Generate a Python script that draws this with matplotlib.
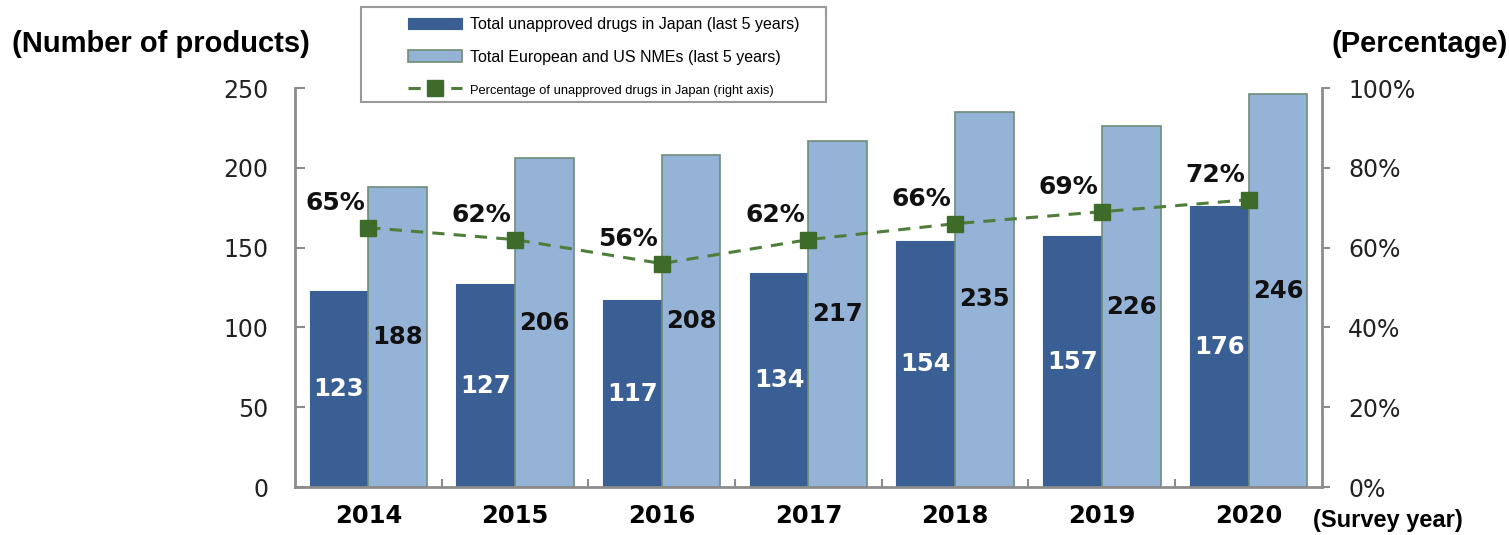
import numpy as np
import matplotlib.pyplot as plt
from matplotlib.patches import Rectangle

years = ['2014', '2015', '2016', '2017', '2018', '2019', '2020']
japan_unapproved = [123, 127, 117, 134, 154, 157, 176]
eu_us_nmes = [188, 206, 208, 217, 235, 226, 246]
pct_unapproved = [65, 62, 56, 62, 66, 69, 72]

dark = '#3a5f94'
light = '#95b3d7'
green = '#3d6b2a'
spine_col = '#8c8c8c'

fig = plt.figure(figsize=(15.09, 5.35), dpi=100)
ax = fig.add_axes([0.1955, 0.0897, 0.6805, 0.7458])
x = np.arange(len(years))
w = 0.4

b1 = ax.bar(x - w/2, japan_unapproved, w, color=dark, edgecolor=dark, linewidth=0.8,
            label='Total unapproved drugs in Japan (last 5 years)')
b2 = ax.bar(x + w/2, eu_us_nmes, w, color=light, edgecolor='#6f8c78', linewidth=1.2,
            label='Total European and US NMEs (last 5 years)')

for xi, v in zip(x, japan_unapproved):
    ax.text(xi - w/2, v/2, str(v), ha='center', va='center', color='white',
            fontsize=17.5, fontweight='bold')
for xi, v in zip(x, eu_us_nmes):
    ax.text(xi + w/2, v/2, str(v), ha='center', va='center', color='#111111',
            fontsize=17.5, fontweight='bold')

ax.set_xlim(-0.5, len(years) - 0.5)
ax.set_ylim(0, 250)
ax.set_yticks([0, 50, 100, 150, 200, 250])
ax.tick_params(axis='y', labelsize=17, colors=spine_col, labelcolor='#222222',
               direction='in', length=7, width=1.5, pad=19)
ax.set_xticks(x)
ax.set_xticklabels(years, fontsize=17.5, fontweight='bold')
ax.tick_params(axis='x', length=0, pad=12)
ax.set_xticks(np.arange(0.5, len(years) - 1, 1), minor=True)
ax.tick_params(axis='x', which='minor', direction='in', length=6, width=1.5, colors=spine_col)
for s in ['top', 'right']:
    ax.spines[s].set_visible(False)
for s in ['left', 'bottom']:
    ax.spines[s].set_color(spine_col)
    ax.spines[s].set_linewidth(2)

ax2 = ax.twinx()
ax2.set_ylim(0, 100)
ax2.set_yticks([0, 20, 40, 60, 80, 100])
ax2.set_yticklabels([f'{t}%' for t in [0, 20, 40, 60, 80, 100]])
ax2.tick_params(axis='y', labelsize=17, colors=spine_col, labelcolor='#222222',
                length=6, width=1.5, pad=13)
for s in ['top', 'left', 'bottom']:
    ax2.spines[s].set_visible(False)
ax2.spines['right'].set_color(spine_col)
ax2.spines['right'].set_linewidth(2)

ln, = ax2.plot(x, pct_unapproved, linestyle=(0, (4, 3)), color='#4f7d3a', linewidth=2.2,
               marker='s', markersize=11, markerfacecolor=green, markeredgecolor=green,
               label='Percentage of unapproved drugs in Japan (right axis)')
for xi, p in zip(x, pct_unapproved):
    ax2.annotate(f'{p}%', (xi, p), xytext=(-24, 18), textcoords='offset points',
                 ha='center', va='center', fontsize=18, fontweight='bold', color='#111111')

fig.text(0.008, 0.918, '(Number of products)', fontsize=21, fontweight='bold',
         family='Liberation Sans', ha='left', va='center')
fig.text(0.999, 0.918, '(Percentage)', fontsize=21, fontweight='bold',
         family='Liberation Sans', ha='right', va='center')
fig.text(0.870, 0.028, '(Survey year)', fontsize=17, fontweight='bold',
         family='Liberation Sans', ha='left', va='center')

# legend box drawn separately (wide left margin as in the original)
fig.patches.append(Rectangle((361/1509, 1 - 102/535), 465/1509, 95/535,
                             transform=fig.transFigure, facecolor='white',
                             edgecolor='#9a9a9a', linewidth=1.5, zorder=5))
leg = fig.legend(handles=[b1, b2, ln], loc='upper left', bbox_to_anchor=(408/1509, 1 - 17/535),
                 prop={'family': 'Liberation Sans', 'size': 11.5}, frameon=False,
                 handlelength=3.4, handleheight=0.75, labelspacing=1.1,
                 borderpad=0, handletextpad=0.5, borderaxespad=0)
leg.set_zorder(6)
leg.get_texts()[2].set_fontsize(9.3)

fig.savefig('out.png', dpi=100)
